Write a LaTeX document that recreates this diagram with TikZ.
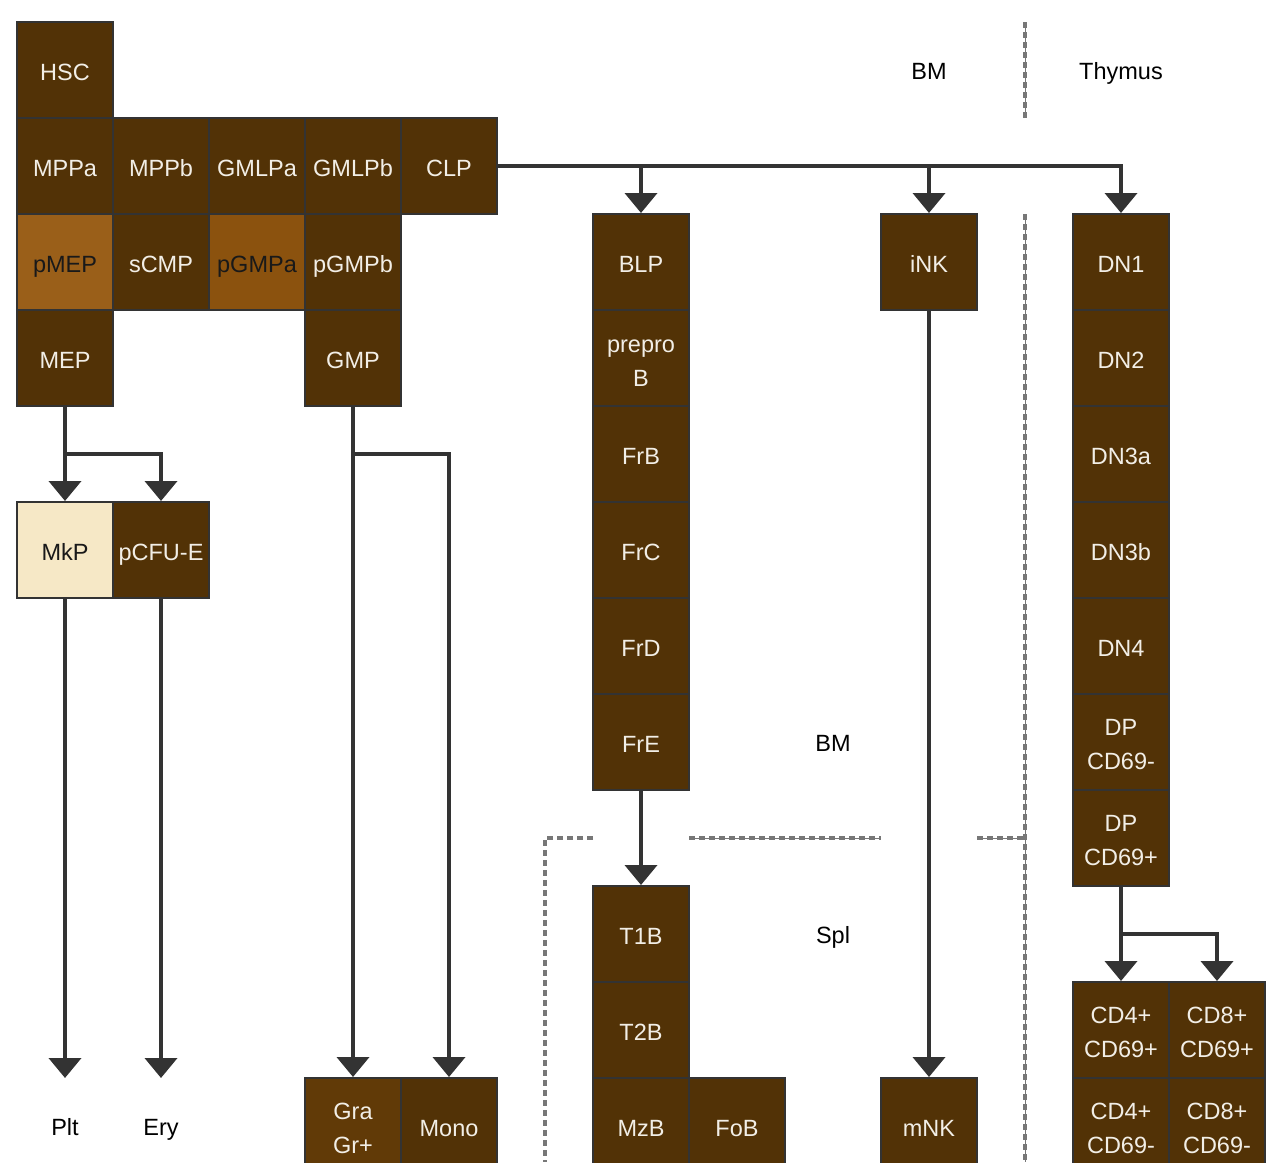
\documentclass[tikz,border=0pt]{standalone}
\usepackage{fontspec}
\setmainfont{Liberation Sans}
\usetikzlibrary{arrows.meta}
\definecolor{dk}{HTML}{523206}
\definecolor{gra}{HTML}{613A07}
\definecolor{pmep}{HTML}{9A5F19}
\definecolor{pgmpa}{HTML}{8B520E}
\definecolor{mkp}{HTML}{F6E8C6}
\definecolor{bd}{HTML}{333333}
\definecolor{tx}{HTML}{F2EEE6}
\definecolor{dg}{HTML}{777777}
\newcommand{\fl}{\rule{0pt}{22pt}}
\tikzset{
  cellbase/.style={draw=bd, line width=2pt, fill=dk, text=tx, minimum width=96pt, minimum height=96pt,
    inner sep=0pt, align=center, font=\fontsize{23.5pt}{34pt}\selectfont},
  cell/.style={cellbase, text height=20pt, text depth=0pt},
  cellii/.style={cellbase},
  lbl/.style={text=black, inner sep=0pt, text height=17pt, text depth=0pt, font=\fontsize{23.5pt}{34pt}\selectfont},
  ln/.style={draw=bd, line width=4pt},
  arr/.style={ln, -{Triangle[width=32pt,length=20pt]}},
  dsh/.style={draw=dg, line width=3.5pt, dash pattern=on 6pt off 4pt},
  thin/.style={draw=dg, line width=1pt},
}
\begin{document}
\begin{tikzpicture}[x=1pt,y=-1pt]
\useasboundingbox (0,0) rectangle (1273,1162);
% dashed region borders
\draw[thin] (1025,22) -- (1025,118);
\draw[dsh] (1025,22) -- (1025,118);
\draw[thin] (1025,214) -- (1025,1162);
\draw[dsh] (1025,214) -- (1025,1162);
\draw[thin] (689,838) -- (881,838);
\draw[dsh] (689,838) -- (881,838);
\draw[thin] (977,838) -- (1025,838);
\draw[dsh] (977,838) -- (1025,838);
\draw[dsh] (593,838) -- (545,838) -- (545,1162);
% cells
\node[cell] (hsc) at (65,70) {HSC};
\node[cell] (mppa) at (65,166) {MPPa};
\node[cell] (mppb) at (161,166) {MPPb};
\node[cell] (gmlpa) at (257,166) {GMLPa};
\node[cell] (gmlpb) at (353,166) {GMLPb};
\node[cell] (clp) at (449,166) {CLP};
\node[cell, fill=pmep, text=black!90] (pmep) at (65,262) {pMEP};
\node[cell] (scmp) at (161,262) {sCMP};
\node[cell, fill=pgmpa, text=black!90] (pgmpa) at (257,262) {pGMPa};
\node[cell] (pgmpb) at (353,262) {pGMPb};
\node[cell] (mep) at (65,358) {MEP};
\node[cell] (gmp) at (353,358) {GMP};
\node[cell, fill=mkp, text=black!90] (mkpn) at (65,550) {MkP};
\node[cell] (pcfu) at (161,550) {pCFU-E};
\node[cellii, fill=gra] (gran) at (353,1126) {\fl Gra\\Gr+};
\node[cell] (mono) at (449,1126) {Mono};
\node[cell] (blp) at (641,262) {BLP};
\node[cellii] (prepro) at (641,358) {\fl prepro\\B};
\node[cell] (frb) at (641,454) {FrB};
\node[cell] (frc) at (641,550) {FrC};
\node[cell] (frd) at (641,646) {FrD};
\node[cell] (fre) at (641,742) {FrE};
\node[cell] (t1b) at (641,934) {T1B};
\node[cell] (t2b) at (641,1030) {T2B};
\node[cell] (mzb) at (641,1126) {MzB};
\node[cell] (fob) at (737,1126) {FoB};
\node[cell] (ink) at (929,262) {iNK};
\node[cell] (mnk) at (929,1126) {mNK};
\node[cell] (dn1) at (1121,262) {DN1};
\node[cell] (dn2) at (1121,358) {DN2};
\node[cell] (dn3a) at (1121,454) {DN3a};
\node[cell] (dn3b) at (1121,550) {DN3b};
\node[cell] (dn4) at (1121,646) {DN4};
\node[cellii] (dpm) at (1121,742) {\fl DP\\CD69-};
\node[cellii] (dpp) at (1121,838) {\fl DP\\CD69+};
\node[cellii] (cd4p) at (1121,1030) {\fl CD4+\\CD69+};
\node[cellii] (cd8p) at (1217,1030) {\fl CD8+\\CD69+};
\node[cellii] (cd4m) at (1121,1126) {\fl CD4+\\CD69-};
\node[cellii] (cd8m) at (1217,1126) {\fl CD8+\\CD69-};
% labels
\node[lbl] (bm1) at (929,71) {BM};
\node[lbl] (thy) at (1121,71) {Thymus};
\node[lbl] (bm2) at (833,743) {BM};
\node[lbl] (spl) at (833,935) {Spl};
\node[lbl] (plt) at (65,1127) {Plt};
\node[lbl] (ery) at (161,1127) {Ery};
\coordinate (pltin) at (65,1078);
\coordinate (eryin) at (161,1078);
% connectors
\coordinate (mepj) at (65,454);
\draw[ln] (mep.south) -- (mepj);
\draw[arr] (mepj) -- (mkpn.north);
\draw[arr] (mepj) -| (pcfu.north);
\coordinate (gmpj) at (353,454);
\draw[arr] (gmp.south) -- (gran.north);
\draw[arr] (gmpj) -| (mono.north);
\draw[arr] (mkpn.south) -- (pltin);
\draw[arr] (pcfu.south) -- (eryin);
\draw[arr] (clp.east) -| (dn1.north);
\draw[arr] (clp.east -| blp.north) -- (blp.north);
\draw[arr] (clp.east -| ink.north) -- (ink.north);
\draw[arr] (fre.south) -- (t1b.north);
\draw[arr] (ink.south) -- (mnk.north);
\coordinate (dpj) at (1121,934);
\draw[arr] (dpp.south) -- (cd4p.north);
\draw[arr] (dpj) -| (cd8p.north);
\end{tikzpicture}
\end{document}
